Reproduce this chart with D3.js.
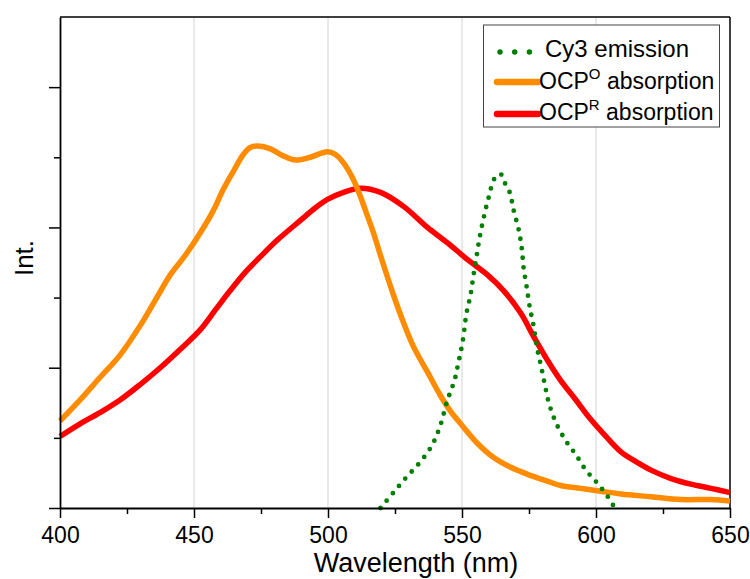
<!DOCTYPE html>
<html>
<head>
<meta charset="utf-8">
<script src="https://cdn.jsdelivr.net/npm/d3@7"></script>
<style>
  html, body { margin: 0; padding: 0; background: #fff; }
  svg { display: block; font-family: "Liberation Sans", Arial, sans-serif; }
</style>
</head>
<body>
<svg id="chart" width="750" height="579"></svg>
<script>
// ---------- data (wavelength nm, intensity a.u.) ----------
const xTicks = [400, 450, 500, 550, 600, 650];
const xMinorTicks = [425, 475, 525, 575, 625];
const yTicks = [0, 1, 2, 3];
const yMinorTicks = [0.5, 1.5, 2.5];
const gridLines = [450, 500, 550, 600];

const ocpOData = [
  [400,0.62],[407.5,0.77],[414.9,0.93],[422.4,1.09],[429.9,1.30],[435.5,1.48],
  [441.1,1.66],[446.7,1.80],[452.3,1.96],[457.2,2.12],[460.9,2.27],[464.7,2.40],
  [468.4,2.52],[471.0,2.57],[474.0,2.58],[478.5,2.56],[483.3,2.51],[487.8,2.48],
  [493.4,2.50],[499.8,2.54],[502.8,2.52],[505.8,2.46],[509.5,2.34],[512.1,2.22],
  [514.0,2.12],[517.0,1.96],[519.6,1.80],[524.4,1.52],[528.2,1.32],[531.9,1.15],
  [537.1,0.97],[542.0,0.80],[545.7,0.69],[549.5,0.60],[555.8,0.46],[561.8,0.36],
  [568.2,0.29],[574.5,0.24],[582.0,0.19],[586.8,0.16],[594.3,0.14],[601.8,0.12],
  [609.3,0.10],[620.5,0.08],[631.7,0.06],[642.9,0.06],[650,0.05]
];

const ocpRData = [
  [400,0.51],[407.5,0.60],[414.9,0.68],[422.4,0.77],[429.9,0.88],[437.4,1.00],
  [444.8,1.13],[452.3,1.27],[457.9,1.41],[463.5,1.55],[469.1,1.68],[474.7,1.79],
  [481.1,1.91],[489.7,2.05],[495.3,2.14],[499.8,2.20],[505.8,2.25],[512.1,2.28],
  [519.6,2.25],[528.2,2.15],[537.1,2.00],[544.6,1.89],[552.1,1.77],[559.6,1.66],
  [565.5,1.55],[571.9,1.39],[576.8,1.22],[582.0,1.05],[586.8,0.91],[592.5,0.77],
  [598.1,0.63],[603.7,0.51],[609.3,0.40],[614.9,0.33],[620.5,0.27],[628.0,0.21],
  [635.4,0.17],[642.9,0.14],[650,0.11]
];

const cy3Data = [
  [519.6,0.00],[524.4,0.11],[529.3,0.22],[534.5,0.33],[538.6,0.44],[541.6,0.57],
  [544.6,0.77],[547.2,0.91],[548.7,1.04],[550.2,1.18],[551.7,1.39],[553.2,1.52],
  [554.3,1.66],[555.5,1.80],[556.6,1.93],[558.1,2.07],[559.9,2.21],[562.2,2.35],
  [564.4,2.38],[565.9,2.32],[567.8,2.25],[569.3,2.12],[571.2,1.98],[572.3,1.85],
  [573.0,1.71],[574.1,1.58],[575.3,1.43],[576.8,1.29],[577.9,1.15],[579.4,1.02],
  [580.9,0.88],[582.4,0.75],[585.0,0.61],[588.7,0.48],[592.5,0.38],[596.2,0.27],
  [599.9,0.19],[602.5,0.13],[604.8,0.07],[606.7,0.01]
];

const legendItems = [
  { label: "Cy3 emission", sup: null, rest: null, color: "#008000", type: "dot" },
  { label: "OCP", sup: "O", rest: " absorption", color: "#FF8C00", type: "line" },
  { label: "OCP", sup: "R", rest: " absorption", color: "#FF0000", type: "line" }
];

// ---------- layout ----------
const svg = d3.select("#chart");
const pLeft = 60, pRight = 730, pTop = 17, pBottom = 508;

const x = d3.scaleLinear().domain([400, 650]).range([pLeft, pRight]);
const y = d3.scaleLinear().domain([0, 3.5]).range([pBottom, pTop]);

// gridlines
svg.append("g").selectAll("line").data(gridLines).join("line")
  .attr("x1", d => x(d)).attr("x2", d => x(d))
  .attr("y1", pTop).attr("y2", pBottom)
  .attr("stroke", "#d4d4d4").attr("stroke-width", 1);

// frame top & right
svg.append("line").attr("x1", pLeft).attr("x2", pRight).attr("y1", pTop).attr("y2", pTop)
  .attr("stroke", "#000").attr("stroke-width", 1.5);
svg.append("line").attr("x1", pRight).attr("x2", pRight).attr("y1", pTop).attr("y2", pBottom)
  .attr("stroke", "#000").attr("stroke-width", 1.5);

// lines
const line = d3.line().x(d => x(d[0])).y(d => y(d[1])).curve(d3.curveCatmullRom.alpha(0.5));

const plot = svg.append("g");
plot.append("path").datum(ocpRData).attr("d", line)
  .attr("fill", "none").attr("stroke", "#FF0000").attr("stroke-width", 5.5)
  .attr("stroke-linejoin", "round");
plot.append("path").datum(ocpOData).attr("d", line)
  .attr("fill", "none").attr("stroke", "#FF8C00").attr("stroke-width", 5.5)
  .attr("stroke-linejoin", "round");
plot.append("path").datum(cy3Data).attr("d", line)
  .attr("fill", "none").attr("stroke", "#008000").attr("stroke-width", 4.8)
  .attr("stroke-linecap", "round").attr("stroke-dasharray", "0 9.6");

// axes
const xAxis = svg.append("g").attr("transform", `translate(0,${pBottom})`)
  .call(d3.axisBottom(x).tickValues(xTicks).tickSize(10).tickSizeOuter(0).tickFormat(d3.format("d")));
svg.append("g").attr("transform", `translate(0,${pBottom})`)
  .call(d3.axisBottom(x).tickValues(xMinorTicks).tickSize(6).tickSizeOuter(0).tickFormat(""))
  .select(".domain").remove();

const yAxis = svg.append("g").attr("transform", `translate(${pLeft},0)`)
  .call(d3.axisLeft(y).tickValues(yTicks).tickSize(11).tickSizeOuter(0).tickFormat(""));
svg.append("g").attr("transform", `translate(${pLeft},0)`)
  .call(d3.axisLeft(y).tickValues(yMinorTicks).tickSize(6).tickSizeOuter(0).tickFormat(""))
  .select(".domain").remove();

svg.selectAll(".domain").attr("stroke", "#000").attr("stroke-width", 1.8);
svg.selectAll(".tick line").attr("stroke", "#000").attr("stroke-width", 1.5);

xAxis.selectAll(".tick text")
  .attr("font-size", 23).attr("fill", "#000")
  .attr("font-family", "'Liberation Sans', Arial, sans-serif")
  .attr("dy", 0).attr("y", 35);

// axis titles
svg.append("text").attr("x", 416).attr("y", 572)
  .attr("text-anchor", "middle").attr("font-size", 27).attr("fill", "#000")
  .text("Wavelength (nm)");
svg.append("text").attr("transform", "translate(33,258) rotate(-90)")
  .attr("text-anchor", "middle").attr("font-size", 26).attr("fill", "#000")
  .text("Int.");

// legend
const lg = svg.append("g");
lg.append("rect").attr("x", 483.5).attr("y", 25).attr("width", 236).attr("height", 102)
  .attr("fill", "#fff").attr("stroke", "#444").attr("stroke-width", 1);

const rowY = [52, 82, 114];
const baseY = [57, 89, 120];
legendItems.forEach((it, i) => {
  if (it.type === "dot") {
    lg.append("line").attr("x1", 500).attr("x2", 529.5).attr("y1", rowY[i]).attr("y2", rowY[i])
      .attr("stroke", it.color).attr("stroke-width", 5.5).attr("stroke-linecap", "round")
      .attr("stroke-dasharray", "0 14.7");
    lg.append("text").attr("x", 545).attr("y", baseY[i]).attr("font-size", 24).attr("fill", "#000")
      .text(it.label);
  } else {
    lg.append("line").attr("x1", 497).attr("x2", 538).attr("y1", rowY[i]).attr("y2", rowY[i])
      .attr("stroke", it.color).attr("stroke-width", 6.5).attr("stroke-linecap", "round");
    const t = lg.append("text").attr("x", 539).attr("y", baseY[i]).attr("font-size", 23).attr("fill", "#000");
    t.append("tspan").text(it.label);
    t.append("tspan").attr("font-size", 15).attr("dy", -10).text(it.sup);
    t.append("tspan").attr("font-size", 23).attr("dy", 10).text(it.rest);
  }
});
</script>
</body>
</html>
